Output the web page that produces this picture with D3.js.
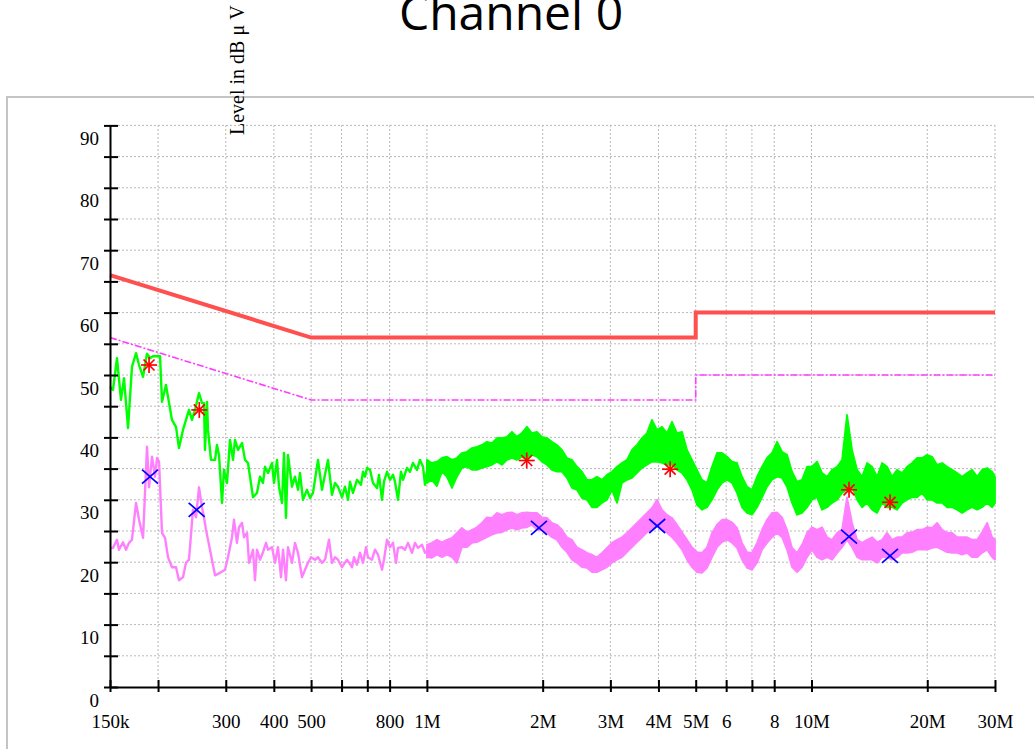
<!DOCTYPE html>
<html><head><meta charset="utf-8">
<script src="https://cdn.jsdelivr.net/npm/d3@7"></script>
<style>body{margin:0;background:#fff;overflow:hidden}</style>
</head><body><svg id="c" width="1034" height="749"></svg>
<script>
// ---------- data ----------
const chartTitle = "Channel 0";
const yAxisLabel = "Level in dB \u03bc V";
const xTickValues = [0.15,0.2,0.3,0.4,0.5,0.6,0.7,0.8,1,2,3,4,5,6,7,8,10,20,30];
const xTickLabels = ["150k","","300","400","500","","","800","1M","2M","3M","4M","5M","6","","8","10M","20M","30M"];
const yTickValues = [0,5,10,15,20,25,30,35,40,45,50,55,60,65,70,75,80,85,90];
const yTickLabels = ["0","","10","","20","","30","","40","","50","","60","","70","","80","","90"];

// limits (MHz, dBuV)
const qpLimitFreq  = [0.15,0.5,5,5,30];
const qpLimitLevel = [66,56,56,60,60];
const avLimitFreq  = [0.15,0.5,5,5,30];
const avLimitLevel = [56,46,46,50,50];

// low-frequency part of the peak (green) trace: [MHz, dBuV]
const peakLF = [[0.150,48.1],[0.1527,47.6],[0.1564,52.7],[0.1602,46.0],[0.1631,49.5],[0.1671,41.5],[0.1711,51.3],[0.1753,53.5],[0.1785,51.6],[0.1828,49.7],
[0.1872,53.4],[0.1906,52.7],[0.1941,53.0],[0.2024,53.0],[0.2048,45.7],[0.2097,48.4],[0.2174,42.8],[0.2227,41.7],[0.2267,38.3],[0.2322,41.2],
[0.2407,44.4],[0.2451,42.8],[0.2495,44.4],[0.2556,47.1],[0.2602,45.5],[0.2633,45.5],[0.2649,38.0],[0.2681,45.7],[0.2697,41.2],[0.2746,36.4],
[0.2813,36.4],[0.2846,38.8],[0.2881,37.2],[0.2933,29.5],[0.2968,34.8],[0.3022,32.7],[0.3077,39.6],[0.3133,36.4],[0.3170,39.6],[0.3228,38.0],
[0.3306,39.1],[0.3366,36.4],[0.3427,35.9],[0.3531,30.4],[0.3616,31.1],[0.3682,33.7],[0.3749,32.7],[0.3794,35.3],[0.3863,34.3],[0.3956,35.9],
[0.4004,32.7],[0.4077,36.4],[0.4126,32.1],[0.4200,29.5],[0.4251,37.5],[0.4302,27.1],[0.4354,37.2],[0.4459,32.1],[0.4540,33.7],[0.4623,31.6],
[0.4678,34.3],[0.4763,30.0],[0.4879,31.6],[0.4967,30.3],[0.5057,31.1],[0.5211,36.4],[0.5337,31.6],[0.5401,33.2],[0.5532,36.4],[0.5666,30.8],
[0.5769,32.7],[0.5873,32.1],[0.6016,30.4],[0.6125,32.1],[0.6236,30.0],[0.6311,32.9],[0.6425,31.1],[0.6581,33.2],[0.6740,32.4],[0.6822,34.5],
[0.6904,33.7],[0.6987,35.1],[0.7114,34.8],[0.7243,32.7],[0.7418,31.9],[0.7508,34.0],[0.7644,30.0],[0.7736,32.9],[0.7876,34.5],[0.8019,33.2],
[0.8164,34.0],[0.8262,32.9],[0.8412,30.0],[0.8565,34.5],[0.8668,33.2],[0.8878,35.1],[0.9038,34.5],[0.9202,35.9],[0.9425,34.8],[0.9596,36.4],
[0.9770,35.3],[0.9888,32.4]];

// low-frequency part of the average (pink) trace: [MHz, dBuV]
const avgLF = [[0.150,22.3],[0.1527,22.3],[0.1564,23.6],[0.1583,22.0],[0.1621,23.2],[0.1651,22.0],[0.1681,23.1],[0.1711,23.6],[0.1753,29.5],[0.1785,26.8],
[0.1828,23.9],[0.1872,38.5],[0.1895,32.0],[0.1929,36.9],[0.1964,33.7],[0.1988,36.7],[0.2012,36.1],[0.2048,24.7],[0.2085,23.9],[0.2123,20.8],
[0.2174,19.2],[0.2227,19.2],[0.2267,17.1],[0.2322,17.6],[0.2364,19.9],[0.2407,20.4],[0.2465,28.4],[0.2510,27.2],[0.2556,32.0],[0.2602,28.8],
[0.2633,27.2],[0.2665,25.2],[0.2697,23.6],[0.2762,20.4],[0.2813,17.9],[0.2898,18.3],[0.2986,18.8],[0.3040,20.8],[0.3114,24.0],[0.3151,26.8],
[0.3208,23.1],[0.3247,25.6],[0.3306,26.3],[0.3346,24.0],[0.3407,24.7],[0.3448,19.9],[0.3531,22.0],[0.3573,17.1],[0.3616,22.0],[0.3682,20.4],
[0.3749,21.6],[0.3817,23.1],[0.3863,22.0],[0.3956,22.4],[0.4028,19.9],[0.4101,22.4],[0.4175,17.6],[0.4226,22.0],[0.4302,17.1],[0.4354,22.4],
[0.4459,19.9],[0.4540,23.1],[0.4623,21.5],[0.4735,17.6],[0.4821,18.8],[0.4908,19.9],[0.4997,20.8],[0.5118,20.4],[0.5211,20.8],[0.5337,19.9],
[0.5434,20.4],[0.5565,23.6],[0.5666,19.9],[0.5769,20.8],[0.5873,20.4],[0.6016,19.2],[0.6199,20.4],[0.6387,19.2],[0.6464,20.8],[0.6581,19.6],
[0.6700,21.5],[0.6822,19.9],[0.6945,22.4],[0.7029,20.8],[0.7199,20.4],[0.7330,22.0],[0.7463,21.2],[0.7644,18.8],[0.7736,20.4],[0.7876,23.6],
[0.8019,22.4],[0.8164,23.1],[0.8312,19.9],[0.8412,22.3],[0.8616,22.4],[0.8772,22.0],[0.8931,23.1],[0.9147,21.5],[0.9313,23.1],[0.9482,22.3],
[0.9711,22.8],[0.9888,21.5]];

// above 1 MHz the traces are dense: max / min envelope per display column
const hfFreq = [1.000,1.030,1.062,1.094,1.127,1.162,1.197,1.233,1.271,1.310,
1.349,1.390,1.432,1.476,1.521,1.567,1.615,1.664,1.714,1.766,
1.820,1.875,1.933,1.991,2.052,2.114,2.178,2.245,2.313,2.383,
2.456,2.530,2.607,2.687,2.768,2.852,2.939,3.028,3.121,3.215,
3.313,3.414,3.518,3.625,3.735,3.848,3.966,4.086,4.210,4.338,
4.470,4.606,4.746,4.890,5.039,5.192,5.350,5.512,5.680,5.852,
6.030,6.214,6.402,6.597,6.798,7.004,7.217,7.437,7.663,7.896,
8.136,8.383,8.638,8.901,9.171,9.450,9.738,10.03,10.34,10.65,
10.98,11.31,11.66,12.01,12.37,12.75,13.14,13.54,13.95,14.37,
14.81,15.26,15.72,16.20,16.69,17.20,17.72,18.26,18.82,19.39,
19.98,20.59,21.21,21.86,22.52,23.21,23.91,24.64,25.39,26.16,
26.96,27.77,28.62,29.49,30.00];

const peakHFmax = [36.4,35.9,36.1,36.7,36.9,36.4,36.7,37.5,37.7,38.3,
38.5,38.8,39.3,39.1,39.9,39.9,40.1,40.9,40.1,40.7,
41.7,40.7,40.9,40.1,39.9,39.3,38.8,38.0,36.7,36.4,
35.3,34.5,33.2,33.2,33.7,33.2,34.0,34.5,35.3,35.9,
36.4,38.0,38.8,39.9,40.7,42.8,41.2,41.7,40.7,42.5,
40.7,40.9,38.0,36.4,34.8,33.2,32.7,35.3,37.5,37.5,
36.9,36.1,35.9,33.7,32.1,31.6,33.7,35.3,36.7,37.5,
39.3,37.7,37.2,34.5,32.9,33.2,35.3,35.3,36.1,34.3,
33.7,34.8,35.3,36.4,43.6,38.0,34.8,33.7,35.9,35.3,
33.7,35.9,35.3,33.7,34.8,34.3,35.3,35.9,36.7,36.7,
37.2,36.9,35.6,35.9,35.3,34.8,34.3,33.7,34.3,34.8,
33.7,34.8,35.1,34.5,33.7];
const peakHFmin = [32.7,33.2,32.2,34.5,33.7,31.9,33.7,35.1,35.3,34.8,
34.8,35.1,35.3,35.6,36.1,35.6,36.4,36.7,36.4,36.9,
36.4,37.2,36.9,36.1,35.6,34.8,34.5,34.5,33.5,31.9,
31.6,30.3,30.0,28.8,28.8,29.5,30.0,31.6,29.5,32.7,
33.2,33.5,34.3,35.1,35.6,36.1,36.1,35.9,35.6,35.6,
34.8,34.3,33.2,31.6,29.2,28.4,28.8,30.0,31.6,32.7,
33.2,32.7,31.1,28.8,27.9,27.6,28.8,30.4,32.1,33.2,
33.7,33.5,32.1,29.5,27.6,27.9,28.8,30.0,30.4,28.4,
28.8,29.5,30.0,31.1,31.6,32.1,30.0,28.8,29.5,28.4,
27.9,29.5,28.8,28.8,28.4,29.5,30.0,30.4,30.4,31.1,
30.0,30.0,29.5,29.5,28.8,28.8,28.4,27.9,28.4,28.8,
28.4,28.8,29.5,28.8,29.5];

const avgHFmax = [22.8,23.1,23.6,23.2,23.6,23.9,24.7,25.5,24.8,25.2,
25.6,26.3,27.2,27.1,27.9,27.6,27.9,28.0,27.6,27.9,
28.0,27.9,27.9,27.2,27.1,26.3,26.0,25.2,24.0,23.6,
22.4,22.0,21.5,21.2,20.8,21.5,22.3,23.1,23.6,24.0,
24.7,25.5,26.3,27.1,27.9,28.7,30.0,28.4,27.6,27.1,
26.0,24.8,23.6,22.4,21.6,21.5,22.4,24.7,26.0,26.8,
26.8,26.4,25.5,23.1,21.6,21.5,23.1,25.2,26.8,27.9,
28.0,27.2,25.2,22.3,21.5,22.8,24.7,25.6,25.2,25.6,
24.0,23.6,24.7,25.2,30.4,26.3,23.6,23.1,23.6,24.0,
23.2,23.6,24.7,23.6,24.0,24.0,24.7,24.8,25.2,25.2,
25.6,25.5,26.3,25.2,24.7,24.7,24.0,24.0,24.0,23.6,
23.6,24.8,26.3,24.0,23.6];
const avgHFmin = [20.8,20.7,21.2,20.8,21.2,20.8,19.9,22.4,22.4,23.1,
23.2,23.6,24.0,24.4,24.7,24.8,25.2,25.5,25.2,25.5,
25.6,26.0,25.2,25.2,24.7,24.0,23.6,22.4,21.6,20.4,
19.9,19.2,19.1,18.4,18.4,18.8,19.2,19.9,20.4,20.8,
21.6,22.4,23.2,24.0,24.8,25.5,26.0,25.5,24.7,24.0,
23.1,22.0,20.4,19.2,18.4,18.3,19.1,20.8,22.4,23.2,
23.6,23.1,22.3,20.4,19.1,18.8,19.9,22.0,23.1,24.0,
24.7,24.0,22.0,19.2,18.4,19.2,20.8,22.0,20.8,20.4,
20.8,20.4,21.5,22.4,23.6,22.4,20.8,20.4,20.4,20.4,
19.9,20.8,20.8,20.4,20.8,21.5,21.5,21.6,22.0,22.0,
22.0,22.3,22.4,22.0,21.6,21.5,21.5,21.2,21.5,20.8,
20.8,21.5,22.0,20.8,20.4];

// final measurements
const qpMarkFreq  = [0.1895,0.256,1.818,4.29,12.52,16.0];
const qpMarkLevel = [51.6,44.4,36.3,34.9,31.6,29.6];
const avMarkFreq  = [0.1906,0.252,1.956,3.97,12.52,16.0];
const avMarkLevel = [33.7,28.4,25.5,25.8,24.1,21.0];

// ---------- drawing ----------
const svg = d3.select("#c");
const x = d3.scaleLog().domain([0.15,30]).range([110,995]);
const y = d3.scaleLinear().domain([0,90]).range([687,125.4]);

// outer frame
svg.append("rect").attr("x",7).attr("y",97).attr("width",1100).attr("height",800)
  .attr("fill","none").attr("stroke","#c4c4c4").attr("stroke-width",2);

// grid
const grid = svg.append("g").attr("stroke","#b8b8b8").attr("stroke-width",1).attr("stroke-dasharray","2,2");
grid.selectAll("line.v").data(xTickValues.filter(d=>d>0.15)).join("line")
  .attr("x1",d=>x(d)).attr("x2",d=>x(d)).attr("y1",y(0)).attr("y2",y(90));
grid.selectAll("line.h").data(yTickValues.filter(d=>d>0)).join("line")
  .attr("x1",x(0.15)).attr("x2",x(30)).attr("y1",d=>y(d)).attr("y2",d=>y(d));

// limit lines
const lim = d3.line().x(d=>x(d[0])).y(d=>y(d[1]));
svg.append("path").datum(qpLimitFreq.map((f,i)=>[f,qpLimitLevel[i]]))
  .attr("d",lim).attr("fill","none").attr("stroke","#ff4f4f").attr("stroke-width",4);
svg.append("path").datum(avLimitFreq.map((f,i)=>[f,avLimitLevel[i]]))
  .attr("d",lim).attr("fill","none").attr("stroke","#ff3cff").attr("stroke-width",1.6)
  .attr("stroke-dasharray","7,2,2,2");

// traces
function drawTrace(lf, fmax, fmin, color){
  const hf = hfFreq.map((f,i)=>({f:f, hi:fmax[i], lo:fmin[i]}));
  const area = d3.area().x(d=>x(d.f)).y0(d=>y(d.lo)).y1(d=>y(d.hi));
  svg.append("path").datum(hf).attr("d",area).attr("fill",color)
    .attr("stroke",color).attr("stroke-width",1.8).attr("stroke-linejoin","round");
  const joined = lf.concat([[hfFreq[0], (fmax[0]+fmin[0])/2]]);
  svg.append("path").datum(joined).attr("d",lim).attr("fill","none")
    .attr("stroke",color).attr("stroke-width",2.4).attr("stroke-linejoin","round");
}
drawTrace(avgLF, avgHFmax, avgHFmin, "#ff80ff");
drawTrace(peakLF, peakHFmax, peakHFmin, "#00ff00");

// markers
const qp = svg.append("g").attr("stroke","#ff0000").attr("stroke-width",1.7);
qpMarkFreq.forEach((f,i)=>{
  const cx = x(f), cy = y(qpMarkLevel[i]);
  const g = qp.append("g").attr("transform",`translate(${cx},${cy})`);
  g.append("line").attr("x1",-8).attr("x2",8).attr("y1",0).attr("y2",0);
  g.append("line").attr("x1",0).attr("x2",0).attr("y1",-8).attr("y2",8);
  g.append("line").attr("x1",-5.5).attr("x2",5.5).attr("y1",-5.5).attr("y2",5.5);
  g.append("line").attr("x1",-5.5).attr("x2",5.5).attr("y1",5.5).attr("y2",-5.5);
});
const av = svg.append("g").attr("stroke","#0000ff").attr("stroke-width",1.7);
avMarkFreq.forEach((f,i)=>{
  const cx = x(f), cy = y(avMarkLevel[i]);
  const g = av.append("g").attr("transform",`translate(${cx},${cy})`);
  g.append("line").attr("x1",-8).attr("x2",8).attr("y1",-7).attr("y2",7);
  g.append("line").attr("x1",-8).attr("x2",8).attr("y1",7).attr("y2",-7);
});

// axes
const font = "'Liberation Serif','Times New Roman',serif";
const yAxis = svg.append("g").attr("transform",`translate(${x(0.15)},0)`)
  .call(d3.axisLeft(y).tickValues(yTickValues).tickSize(6).tickSizeOuter(0)
        .tickFormat((d,i)=>yTickLabels[i]));
yAxis.select(".domain").attr("stroke","#000").attr("stroke-width",2);
yAxis.selectAll(".tick line").attr("x1",8).attr("x2",-6).attr("stroke-width",2);
yAxis.selectAll(".tick text").attr("x",-11).attr("dy",null).attr("y",19)
  .attr("font-family",font).attr("font-size",19).attr("fill","#000");

const xAxis = svg.append("g").attr("transform",`translate(0,${y(0)})`)
  .call(d3.axisBottom(x).tickValues(xTickValues).tickSize(6).tickSizeOuter(0)
        .tickFormat((d,i)=>xTickLabels[i]));
xAxis.select(".domain").attr("stroke","#000").attr("stroke-width",2);
xAxis.selectAll(".tick line").attr("y1",-7).attr("y2",5).attr("stroke-width",2);
xAxis.selectAll(".tick text").attr("dy",null).attr("y",41)
  .attr("font-family",font).attr("font-size",19).attr("fill","#000");

// titles
svg.append("text").attr("x",511).attr("y",30).attr("text-anchor","middle")
  .attr("font-family","'Open Sans',sans-serif").attr("font-size",48).attr("fill","#000")
  .text(chartTitle);
svg.append("text").attr("transform","translate(244,135) rotate(-90)")
  .attr("font-family",font).attr("font-size",20).attr("fill","#000").text(yAxisLabel);
</script></body></html>
